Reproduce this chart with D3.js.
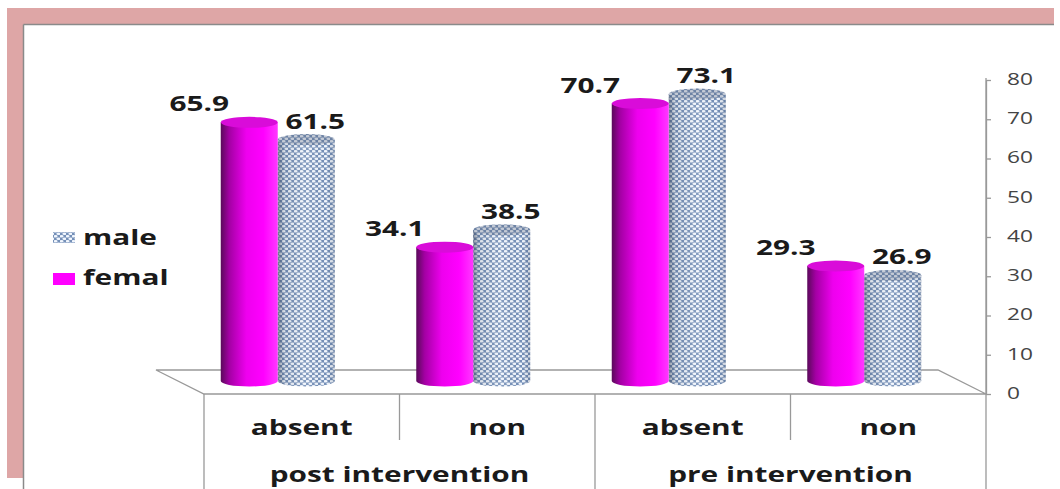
<!DOCTYPE html>
<html>
<head>
<meta charset="utf-8">
<script src="https://cdn.jsdelivr.net/npm/d3@7"></script>
<style>
  body { margin: 0; background: #fff; }
  svg { display: block; font-family: "Open Sans", sans-serif; }
</style>
</head>
<body>
<svg id="chart" width="1060" height="489"></svg>
<script>
// data
const groups = ["post intervention", "pre intervention"];
const subCats = ["absent", "non"];
const categories = ["post absent", "post non", "pre absent", "pre non"];
const femal = [65.9, 34.1, 70.7, 29.3];
const male = [61.5, 38.5, 73.1, 26.9];
const yTicks = [0, 10, 20, 30, 40, 50, 60, 70, 80];

const svg = d3.select("#chart");
const W = 1060, H = 489;
const stretch = 1.42; // the picture is wider than it is tall, text too

// frame
svg.append("rect").attr("x", 7).attr("y", 8).attr("width", 1047).attr("height", 17).attr("fill", "#dea6a6");
svg.append("rect").attr("x", 7).attr("y", 8).attr("width", 17).attr("height", 470).attr("fill", "#dea6a6");
svg.append("rect").attr("x", 24).attr("y", 25).attr("width", 1030).attr("height", H - 25).attr("fill", "#fff");
svg.append("line").attr("x1", 23.5).attr("x2", 1054).attr("y1", 24.5).attr("y2", 24.5).attr("stroke", "#8a8a8a").attr("stroke-width", 1.5);
svg.append("line").attr("x1", 23.5).attr("x2", 23.5).attr("y1", 24.5).attr("y2", H).attr("stroke", "#8a8a8a").attr("stroke-width", 1.5);

const defs = svg.append("defs");

const fg = defs.append("linearGradient").attr("id", "femGrad");
[[0, "#5a0a5a"], [0.15, "#a400a4"], [0.45, "#ee00ee"], [0.75, "#ff00ff"], [1, "#ff38ff"]]
  .forEach(s => fg.append("stop").attr("offset", s[0]).attr("stop-color", s[1]));

const shade = defs.append("linearGradient").attr("id", "maleShade");
[[0, "rgba(50,60,80,0.5)"], [0.12, "rgba(50,60,80,0.12)"], [0.5, "rgba(255,255,255,0.12)"], [0.85, "rgba(50,60,80,0.0)"], [1, "rgba(50,60,80,0.2)"]]
  .forEach(s => shade.append("stop").attr("offset", s[0]).attr("stop-color", s[1]));

const pat = defs.append("pattern").attr("id", "mesh").attr("patternUnits", "userSpaceOnUse")
  .attr("width", 6).attr("height", 5);
pat.append("rect").attr("width", 6).attr("height", 5).attr("fill", "#7590b8");
pat.append("ellipse").attr("cx", 1.5).attr("cy", 1.25).attr("rx", 2.1).attr("ry", 1.2).attr("fill", "#f2f7fe");
pat.append("ellipse").attr("cx", 4.5).attr("cy", 3.75).attr("rx", 2.1).attr("ry", 1.2).attr("fill", "#f2f7fe");

// scales
const x = d3.scaleBand().domain(categories).range([204, 986]);
const y = d3.scaleLinear().domain([0, 80]).range([394, 80]);
const depthX = -48, depthY = -24;
const barOff = { x: -24, y: -13 };
const barW = 57, ry = 5.5;

// floor
const floor = [
  [x.range()[0] + depthX, y(0) + depthY],
  [x.range()[1] + depthX, y(0) + depthY],
  [x.range()[1], y(0)],
  [x.range()[0], y(0)]
];
svg.append("polygon").attr("points", floor.map(p => p.join(",")).join(" "))
  .attr("fill", "#fff").attr("stroke", "#999").attr("stroke-width", 1.3);

// category table lines
const gl = svg.append("g").attr("stroke", "#999").attr("stroke-width", 1.3);
categories.forEach((c, i) => {
  const xx = x(c);
  const toBottom = i % 2 === 0;
  gl.append("line").attr("x1", xx).attr("x2", xx).attr("y1", y(0)).attr("y2", toBottom ? H : y(0) + 46);
});
gl.append("line").attr("x1", x.range()[1]).attr("x2", x.range()[1]).attr("y1", y(80) - 2).attr("y2", H);

// y axis
const ax = svg.append("g").attr("transform", `translate(${x.range()[1]},0)`)
  .call(d3.axisRight(y).tickValues(yTicks).tickSize(5).tickSizeOuter(0).tickPadding(22));
ax.select(".domain").attr("stroke", "#999").attr("stroke-width", 1.3);
ax.selectAll(".tick line").attr("stroke", "#999").attr("stroke-width", 1.3);
ax.selectAll(".tick text")
  .attr("x", 0).attr("dy", null)
  .attr("dominant-baseline", "middle")
  .attr("transform", `translate(21,0) scale(${stretch},1)`)
  .attr("fill", "#444").attr("font-size", 16).attr("font-family", "Open Sans, sans-serif");

// cylinders
function cyl(g, cx, v, bodyFill, topFill, overlay, topOverlay) {
  const x0 = cx - barW / 2, x1 = cx + barW / 2;
  const yb = y(0) + barOff.y, yt = y(v) + barOff.y;
  const d = `M${x0},${yt} V${yb} A${barW / 2},${ry} 0 0 0 ${x1},${yb} V${yt} Z`;
  g.append("path").attr("d", d).attr("fill", bodyFill);
  if (overlay) g.append("path").attr("d", d).attr("fill", overlay);
  g.append("ellipse").attr("cx", cx).attr("cy", yt).attr("rx", barW / 2).attr("ry", ry).attr("fill", topFill);
  if (topOverlay) g.append("ellipse").attr("cx", cx).attr("cy", yt).attr("rx", barW / 2).attr("ry", ry).attr("fill", topOverlay);
}

const bars = svg.append("g");
const labels = svg.append("g").attr("font-weight", "bold").attr("font-size", 21).attr("fill", "#1a1a1a");
function label(cx, yy, t) {
  labels.append("text").attr("transform", `translate(${cx},${yy}) scale(${stretch},1)`)
    .attr("text-anchor", "middle").text(t);
}

categories.forEach((c, i) => {
  const gc = x(c) + x.bandwidth() / 2 + barOff.x;
  const mc = gc + barW / 2, fc = gc - barW / 2;
  cyl(bars, mc, male[i], "url(#mesh)", "url(#mesh)", "url(#maleShade)", "rgba(90,100,120,0.3)");
  cyl(bars, fc, femal[i], "url(#femGrad)", "#d90cd9", null, null);
  label(fc - 50, y(femal[i]) + barOff.y - 11, femal[i].toFixed(1));
  label(mc + 9, y(male[i]) + barOff.y - 11, male[i].toFixed(1));
});

// category labels
const cl = svg.append("g").attr("font-weight", "bold").attr("font-size", 21).attr("fill", "#1a1a1a");
categories.forEach((c, i) => {
  cl.append("text").attr("transform", `translate(${x(c) + x.bandwidth() / 2},435) scale(${stretch},1)`)
    .attr("text-anchor", "middle").text(subCats[i % 2]);
});
groups.forEach((gname, j) => {
  const cx = x(categories[j * 2]) + x.bandwidth();
  cl.append("text").attr("transform", `translate(${cx},482) scale(${stretch},1)`)
    .attr("text-anchor", "middle").text(gname);
});

// legend
const lg = svg.append("g").attr("font-weight", "bold").attr("font-size", 21).attr("fill", "#1a1a1a");
lg.append("rect").attr("x", 53).attr("y", 232).attr("width", 22).attr("height", 11).attr("fill", "url(#mesh)");
lg.append("text").attr("transform", `translate(83,245) scale(${stretch},1)`).text("male");
lg.append("rect").attr("x", 53).attr("y", 273).attr("width", 22).attr("height", 12).attr("fill", "#ff00ff");
lg.append("text").attr("transform", `translate(83,285) scale(${stretch},1)`).text("femal");
</script>
</body>
</html>
